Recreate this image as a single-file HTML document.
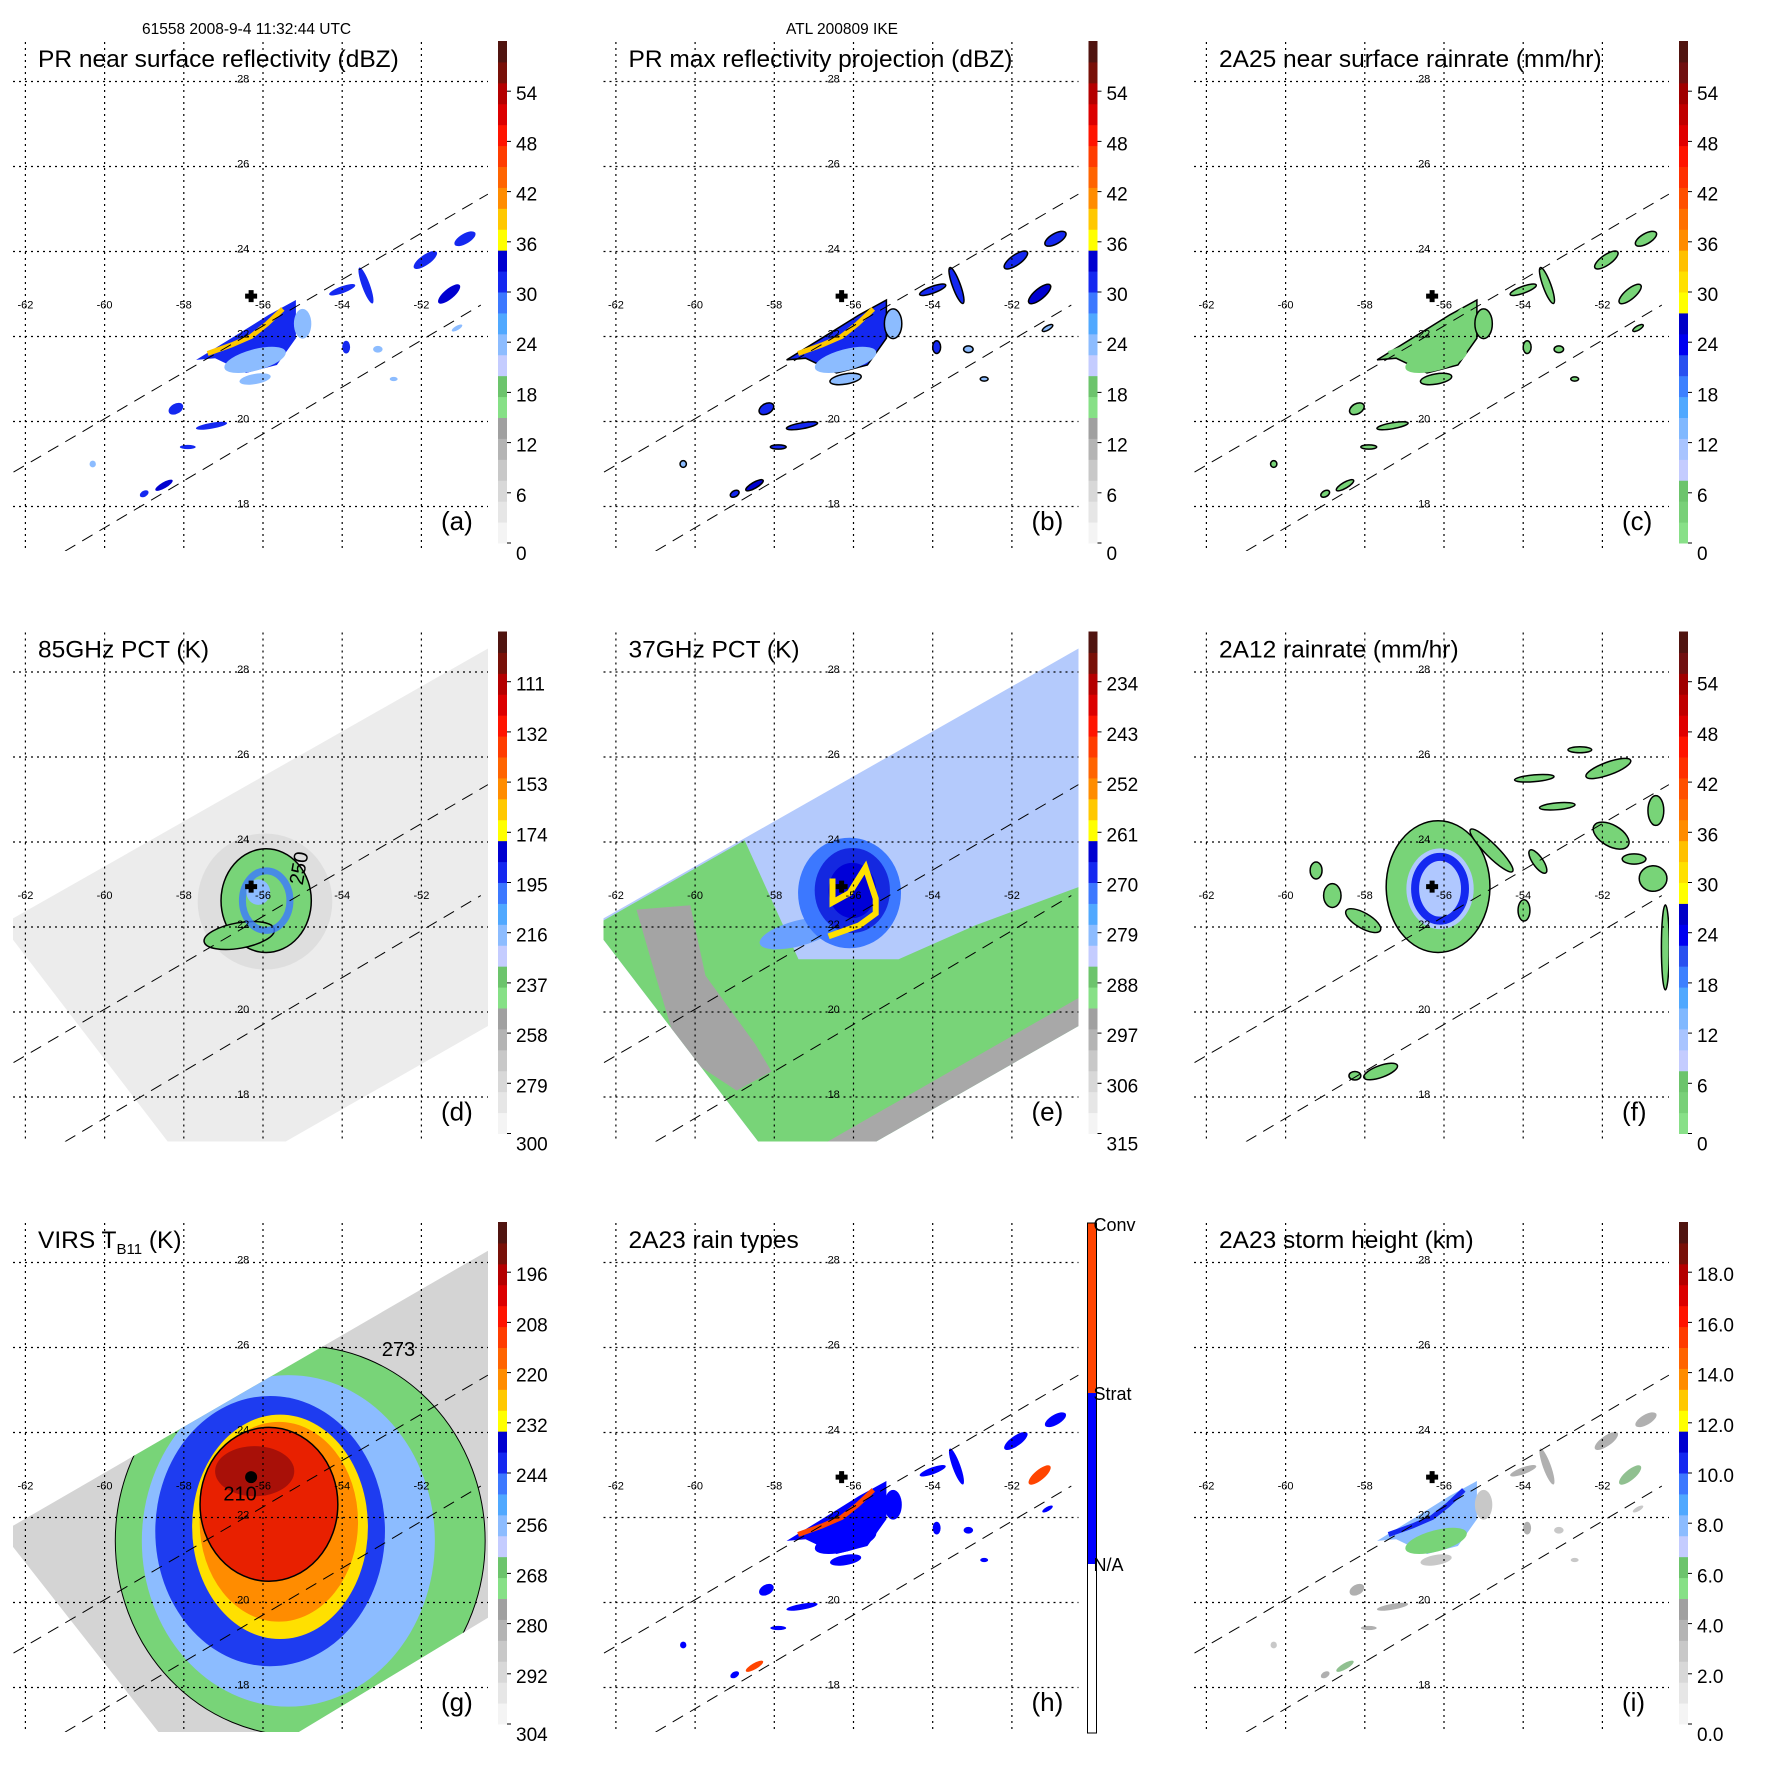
<!DOCTYPE html>
<html><head><meta charset="utf-8"><style>
html,body{margin:0;padding:0;background:#fff;}
svg text{font-family:"Liberation Sans",sans-serif;}
</style></head><body>
<svg id="fig" xmlns="http://www.w3.org/2000/svg" width="1771" height="1771" viewBox="0 0 1771 1771">
<rect x="0" y="0" width="1771" height="1771" fill="#fff"/>
<text x="142" y="34" font-size="15.5">61558 2008-9-4 11:32:44 UTC</text>
<text x="842" y="34" font-size="15.5" text-anchor="middle">ATL 200809 IKE</text>
</svg>
<script>
// ---------- data ----------
const lonTicks = [-62,-60,-58,-56,-54,-52];
const latTicks = [28,26,24,22,20,18];
const lonLabels = ["-62","-60","-58","-56","-54","-52"];
const latLabels = ["28","26","24","22","20","18"];
const stormCenter = [-56.3, 22.95];
const prUpper = [[-62.3,18.81],[-50.32,25.35]];
const prLower = [[-61.0,16.95],[-50.5,22.74]];
const tmiUpper = [[-62.6,22.05],[-50.0,28.72]];
const tmiLower = [[-57.5,15.85],[-50.0,19.84]];
const virsUpper = [[-62.6,21.65],[-50.0,28.45]];
const virsLower = [[-57.5,15.6],[-50.0,19.82]];
const titles = ["PR near surface reflectivity (dBZ)","PR max reflectivity projection (dBZ)","2A25 near surface rainrate (mm/hr)","85GHz PCT (K)","37GHz PCT (K)","2A12 rainrate (mm/hr)","VIRS T","2A23 rain types","2A23 storm height (km)"];
const letters = ["(a)","(b)","(c)","(d)","(e)","(f)","(g)","(h)","(i)"];
const cbLabelsA = ["54","48","42","36","30","24","18","12","6","0"];
const cbLabelsD = ["111","132","153","174","195","216","237","258","279","300"];
const cbLabelsE = ["234","243","252","261","270","279","288","297","306","315"];
const cbLabelsG = ["196","208","220","232","244","256","268","280","292","304"];
const cbLabelsI = ["18.0","16.0","14.0","12.0","10.0","8.0","6.0","4.0","2.0","0.0"];
const rainTypeLabels = ["Conv","Strat","N/A"];
// PR main rain cluster (lon,lat)
const prCluster = [[-57.69,21.45],[-56.8,21.96],[-55.85,22.51],[-55.17,22.86],[-55.17,21.96],[-55.65,21.33],[-56.43,21.14],[-57.21,21.49]];
const prStreak = [[-57.4,21.6],[-56.8,21.8],[-56.3,22.0],[-55.9,22.3],[-55.5,22.65]];
// PR scattered blobs: lon, lat, rx(deg), ry(deg), rotation, intensity
const prBlobs = [[-51.9,23.8,0.35,0.12,-35,1],[-51.3,23.0,0.35,0.12,-40,2],[-53.4,23.2,0.1,0.45,-20,1],[-54.0,23.1,0.35,0.08,-20,1],[-50.9,24.3,0.3,0.12,-30,1],[-57.3,19.9,0.4,0.07,-10,1],[-58.2,20.3,0.2,0.12,-30,1],[-58.5,18.5,0.25,0.07,-30,2],[-59.0,18.3,0.12,0.07,-30,1],[-57.9,19.4,0.2,0.05,0,1],[-53.9,21.75,0.1,0.15,0,1],[-53.1,21.7,0.12,0.08,0,0],[-55.0,22.3,0.22,0.35,0,0],[-51.1,22.2,0.15,0.05,-30,0],[-52.7,21.0,0.1,0.05,0,0],[-60.3,19.0,0.08,0.08,0,0],[-56.2,21.0,0.4,0.12,-10,0]];
// TMI 37GHz regions
const e_green = [[-62.6,22.0],[-58.75,24.04],[-57.39,21.24],[-54.86,21.24],[-52.92,22.04],[-50.0,23.05],[-50.0,15.5],[-62.6,15.5]];
const e_gray = [[-61.48,22.41],[-60.12,22.51],[-59.74,20.86],[-58.48,19.24],[-58.07,18.6],[-58.95,18.15],[-60.42,19.05],[-61.0,20.86]];
const e_grayStrip = [[-57.5,16.5],[-50.0,20.5],[-50.0,18.9],[-57.5,15.0]];
const e_hook = [[-56.53,23.14],[-56.53,22.58],[-56.1,22.8],[-55.7,23.4],[-55.44,22.67],[-55.44,22.32],[-55.85,22.04],[-56.63,21.78]];
// storm features: lon, lat, rx, ry, rot
const d_halo = [-55.95,22.6,1.7,1.6,0];
const d_core = [-55.92,22.62,1.14,1.22,0];
const d_hook = [-56.6,21.8,0.9,0.3,-10];
const e_ring = [-56.1,22.8,1.3,1.3,0];
const e_core = [-56.03,22.86,0.95,1.0,0];
const e_arm = [-57.4,21.85,1.0,0.3,-15];
const f_core = [-56.15,22.95,1.31,1.55,0];
const f_eye = [-56.1,22.9,0.63,0.75,0];
const f_blobs = [[-52.57,26.17,0.3,0.07,0],[-51.85,25.73,0.6,0.15,-20],[-53.72,25.5,0.5,0.08,-5],[-53.14,24.84,0.45,0.08,-5],[-51.78,24.15,0.5,0.25,30],[-51.2,23.6,0.3,0.12,0],[-50.72,23.14,0.35,0.3,0],[-54.8,23.8,0.75,0.15,45],[-53.63,23.54,0.35,0.12,55],[-59.23,23.33,0.15,0.2,0],[-58.82,22.74,0.22,0.28,0],[-58.04,22.15,0.5,0.18,30],[-57.6,18.6,0.45,0.14,-20],[-58.25,18.5,0.15,0.1,0],[-53.98,22.39,0.15,0.25,0],[-50.65,24.74,0.2,0.35,0],[-50.41,21.52,0.1,1.0,0]];
const g_outer = [-55.06,21.45,4.67,4.59,0];
const g_blue = [-55.82,21.68,2.9,3.18,0];
const g_yellow = [-55.57,21.78,2.22,2.64,0];
const g_orange = [-55.6,21.9,2.0,2.35,0];
const g_red = [-55.85,22.31,1.74,1.81,0];
const g_darkred = [-56.21,23.09,1.0,0.59,0];
const g_contourLabels = ["210","273"];
const g_contourPos = [[-57.0,22.4],[-53.0,25.8]];
// colormaps (bottom to top)
const cmapA = ["#f4f4f4","#e6e6e6","#d8d8d8","#c8c8c8","#b4b4b4","#a0a0a0","#86e086","#6cc46c","#c4ccff","#8cbcff","#50a8ff","#3c78ff","#1428f0","#0000d0","#ffff00","#ffc800","#ff8c00","#ff6400","#ff3c00","#ff1400","#dc0000","#b40000","#781008","#501410"];
const cmapC = ["#88e088","#78d078","#6cc46c","#c4ccff","#a8c4ff","#80b8ff","#50a8ff","#3c80ff","#2850f0","#0000f0","#0000c8","#ffff00","#ffe000","#ffc000","#ff8c00","#ff7000","#ff5000","#ff3000","#ff1400","#e00000","#c00000","#a00000","#701010","#501410"];

// ---------- drawing ----------
const NS = "http://www.w3.org/2000/svg";
const svg = document.getElementById('fig');
const STEP = 590.5;
function X(lon){return 25.4 + (lon+62)*39.6;}
function Y(lat){return 81.5 + (28-lat)*42.5;}
function mk(tag, attrs, parent){const e=document.createElementNS(NS,tag);for(const k in attrs)e.setAttribute(k,attrs[k]);parent.appendChild(e);return e;}
function pts(arr){return arr.map(p=>X(p[0]).toFixed(1)+","+Y(p[1]).toFixed(1)).join(" ");}
function ell(g, f, fill, extra){
  const e=mk('ellipse',{cx:X(f[0]),cy:Y(f[1]),rx:f[2]*39.6,ry:f[3]*42.5,fill:fill,transform:`rotate(${f[4]} ${X(f[0])} ${Y(f[1])})`},g);
  if(extra)for(const k in extra)e.setAttribute(k,extra[k]);
  return e;
}
function swathPoly(up, lo){return [up[0],up[1],lo[1],lo[0]];}

for(let p=0;p<9;p++){
  const col=p%3,row=Math.floor(p/3);
  const g=mk('g',{transform:`translate(${col*STEP},${row*STEP})`},svg);
  
  
  const cid='clip'+p;
  const cp=mk('clipPath',{id:cid},g);
  mk('rect',{x:13,y:42,width:475,height:509},cp);
  const data=mk('g',{'clip-path':`url(#${cid})`},g);
  
  

  if(p===3){
    mk('polygon',{points:pts(swathPoly(tmiUpper,tmiLower)),fill:"#ececec"},data);
    ell(data,d_halo,"#cfcfcf",{opacity:"0.45"});
    ell(data,d_core,"#78d478",{stroke:"#000","stroke-width":"1.5"});
    ell(data,d_hook,"#78d478",{stroke:"#000","stroke-width":"1.5"});
    ell(data,[d_core[0],d_core[1],0.6,0.7,0],"none",{stroke:"#3c78ff","stroke-width":"7",opacity:"0.8"});
    ell(data,[d_core[0]-0.2,d_core[1]+0.2,0.3,0.3,0],"#8cbcff");
    const t=mk('text',{x:X(-55.0),y:Y(22.97),'font-size':"20",transform:`rotate(-80 ${X(-55.0)} ${Y(22.97)})`},data);t.textContent="250";
  }
  if(p===4){
    mk('polygon',{points:pts(swathPoly(tmiUpper,tmiLower)),fill:"#b4cafc"},data);
    const sc=mk('clipPath',{id:'sw4'},g);mk('polygon',{points:pts(swathPoly(tmiUpper,tmiLower))},sc);
    const inner=mk('g',{'clip-path':'url(#sw4)'},data);
    mk('polygon',{points:pts(e_green),fill:"#78d478"},inner);
    mk('polygon',{points:pts(e_gray),fill:"#a4a4a4"},inner);
    mk('polygon',{points:pts(e_grayStrip),fill:"#a8a8a8"},inner);
    ell(inner,e_arm,"#6aa0ff");
    ell(inner,e_ring,"#3c78ff");
    ell(inner,e_core,"#1428e0");
    ell(inner,[e_core[0],e_core[1],0.6,0.65,0],"#0000d8");
    mk('polyline',{points:pts(e_hook),fill:"none",stroke:"#ffe000","stroke-width":"6"},inner);
  }
  if(p===5){
    ell(data,f_core,"#78d478",{stroke:"#000","stroke-width":"1.5"});
    ell(data,[f_eye[0],f_eye[1],0.85,0.95,0],"#b0c8ff");
    ell(data,f_eye,"none",{stroke:"#1428f0","stroke-width":"8"});
    for(const b of f_blobs)ell(data,b,"#78d478",{stroke:"#000","stroke-width":"1.5"});
  }
  if(p===6){
    mk('polygon',{points:pts(swathPoly(virsUpper,virsLower)),fill:"#d4d4d4"},data);
    const sc=mk('clipPath',{id:'sw6'},g);mk('polygon',{points:pts(swathPoly(virsUpper,virsLower))},sc);
    const inner=mk('g',{'clip-path':'url(#sw6)'},data);
    ell(inner,g_outer,"#78d478",{stroke:"#000","stroke-width":"1"});
    ell(inner,[g_outer[0]-0.3,g_outer[1],3.7,3.9,0],"#8cbcff");
    ell(inner,g_blue,"#1e3cf0");
    ell(inner,g_yellow,"#ffe000");
    ell(inner,g_orange,"#ff8c00");
    ell(inner,g_red,"#e82000",{stroke:"#000","stroke-width":"1.5"});
    ell(inner,g_darkred,"#a81008");
    mk('circle',{cx:X(stormCenter[0]),cy:Y(stormCenter[1]),r:6,fill:"#000"},inner);
    for(let i=0;i<g_contourLabels.length;i++){const t=mk('text',{x:X(g_contourPos[i][0]),y:Y(g_contourPos[i][1]),'font-size':"20"},inner);t.textContent=g_contourLabels[i];}
  }
  if([0,1,2,7,8].includes(p)){
    const styles={0:{c:["#8cbcff","#1428f0","#0000d0"],s:"none",main:"#1428f0",streak:"#ffc800",low:"#8cbcff"},
      1:{c:["#8cbcff","#1428f0","#0000d0"],s:"#000",main:"#1428f0",streak:"#ffc800",low:"#8cbcff"},
      2:{c:["#78d478","#78d478","#78d478"],s:"#000",main:"#78d478",streak:"#78d478",low:"#78d478"},
      7:{c:["#0000ff","#0000ff","#ff4400"],s:"none",main:"#0000ff",streak:"#ff4400",low:"#0000ff"},
      8:{c:["#c8c8c8","#b0b0b0","#90c090"],s:"none",main:"#8cbcff",streak:"#1428f0",low:"#78d478"}}[p];
    const cl=mk('polygon',{points:pts(prCluster),fill:styles.main},data);
    if(styles.s!=="none"){cl.setAttribute('stroke',styles.s);cl.setAttribute('stroke-width','1.5');}
    ell(data,[-56.2,21.45,0.8,0.25,-15],styles.low);
    mk('polyline',{points:pts(prStreak),fill:"none",stroke:styles.streak,"stroke-width":"5"},data);
    for(const b of prBlobs){
      const e=ell(data,b,styles.c[b[5]]);
      if(styles.s!=="none"){e.setAttribute('stroke',styles.s);e.setAttribute('stroke-width','1.5');}
    }
  }
  // grid
  const grid=mk('g',{stroke:"#000","stroke-width":"1.2","stroke-dasharray":"2,4",fill:"none"},g);
  
  
  lonTicks.forEach(lon=>mk('line',{x1:X(lon),y1:42,x2:X(lon),y2:551},grid));
  latTicks.forEach(lat=>mk('line',{x1:13,y1:Y(lat),x2:488,y2:Y(lat)},grid));
  // swath dashed lines
  const sw=mk('g',{stroke:"#000","stroke-width":"1","stroke-dasharray":"12,8",'clip-path':`url(#${cid})`},g);
  
  
  [prUpper,prLower].forEach(l=>mk('line',{x1:X(l[0][0]),y1:Y(l[0][1]),x2:X(l[1][0]),y2:Y(l[1][1])},sw));
  // tick labels
  lonTicks.forEach((lon,i)=>{const t=mk('text',{x:X(lon),y:Y(22.75)+4,'font-size':"11",'text-anchor':"middle"},g);t.textContent=lonLabels[i];
    });
  latTicks.forEach((lat,i)=>{const t=mk('text',{x:X(-56.5),y:Y(lat)+1,'font-size':"11",'text-anchor':"middle"},g);t.textContent=latLabels[i];
    });
  // storm center cross
  if(p!==6){
    const cx=X(stormCenter[0]),cy=Y(stormCenter[1]);
    const cr=mk('path',{d:`M${cx-6},${cy-2.5}h12v5h-12z M${cx-2.5},${cy-6}h5v12h-5z`,fill:"#000"},g);
    
  }
  // title
  const tt=mk('text',{x:38,y:67,'font-size':"24.5"},g);
  
  if(p===6){tt.textContent="VIRS T";const s=mk('tspan',{'font-size':"15",dy:"6"},tt);s.textContent="B11";const s2=mk('tspan',{dy:"-6"},tt);s2.textContent=" (K)";}
  else tt.textContent=titles[p];
  const lt=mk('text',{x:441,y:530,'font-size':"26"},g);lt.textContent=letters[p];
  
  // colorbar
  const cb=mk('g',{},g);
  
  if(p===7){
    mk('rect',{x:497,y:42,width:9,height:170,fill:"#ff4400"},cb);
    mk('rect',{x:497,y:212,width:9,height:171,fill:"#0000ff"},cb);
    mk('rect',{x:497,y:383,width:9,height:169,fill:"#fff"},cb);
    mk('rect',{x:497,y:42,width:9,height:510,fill:"none",stroke:"#000","stroke-width":"1"},cb);
    [50,219,390].forEach((y,i)=>{const t=mk('text',{x:503,y:y,'font-size':"18"},cb);t.textContent=rainTypeLabels[i];});
  } else {
    const cmap=(p===2||p===5)?cmapC:cmapA;
    const n=cmap.length,h=502/n;
    cmap.forEach((c,i)=>mk('rect',{x:498,y:543-(i+1)*h,width:9,height:h+0.5,fill:c},cb));
    const labs=[cbLabelsA,cbLabelsA,cbLabelsA,cbLabelsD,cbLabelsE,cbLabelsA,cbLabelsG,null,cbLabelsI][p];
    labs.forEach((l,k)=>{const i=9-k;const cy=i===0?553:545-50.2*i;
      const t=mk('text',{x:516,y:cy+7,'font-size':"19"},cb);t.textContent=l;
      mk('line',{x1:507,y1:cy-(i===0?10:2),x2:511,y2:cy-(i===0?10:2),stroke:"#000","stroke-width":"1"},cb);});
  }
}
</script>
</body></html>
